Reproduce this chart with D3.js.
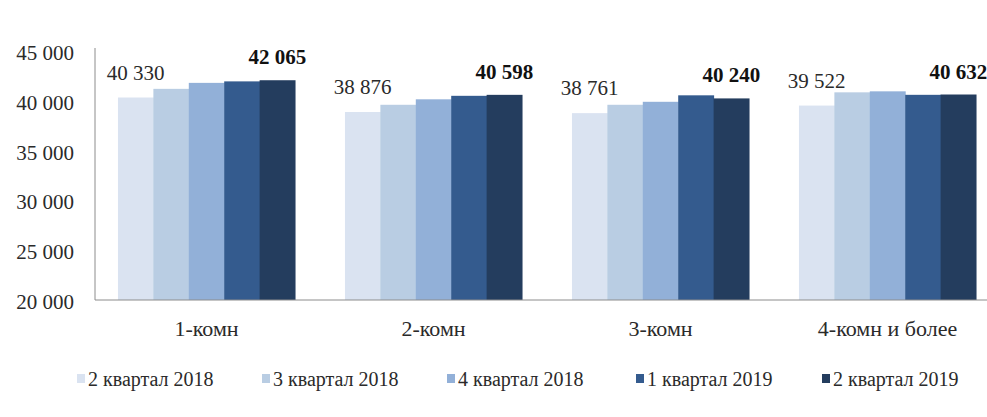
<!DOCTYPE html>
<html><head><meta charset="utf-8">
<script src="https://cdn.jsdelivr.net/npm/d3@7"></script>
</head><body style="margin:0;background:#fff"><svg id="c" width="987" height="417" font-family="Liberation Serif"></svg>
<script>
const categories = ["1-комн", "2-комн", "3-комн", "4-комн и более"];
const seriesNames = ["2 квартал 2018", "3 квартал 2018", "4 квартал 2018", "1 квартал 2019", "2 квартал 2019"];
const q2_2018 = [40330, 38876, 38761, 39522];
const q3_2018 = [41200, 39600, 39600, 40850];
const q4_2018 = [41800, 40150, 39900, 40950];
const q1_2019 = [41950, 40500, 40550, 40600];
const q2_2019 = [42065, 40598, 40240, 40632];
const yTicks = [20000, 25000, 30000, 35000, 40000, 45000];
const colors = ["#dae3f1", "#b9cde3", "#92b0d8", "#345b8e", "#243d5e"];
const series = [q2_2018, q3_2018, q4_2018, q1_2019, q2_2019];

const FONT = "Liberation Serif";
const svg = d3.select("#c");
const fmt = v => d3.format(",")(v).replace(/,/g, " ");
const x0 = d3.scaleBand().domain(categories).range([93, 1001]).paddingInner(0.22).paddingOuter(0.11);
const x1 = d3.scaleBand().domain(d3.range(5)).range([0, x0.bandwidth()]);
const y = d3.scaleLinear().domain([20000, 45000]).range([300, 51]);

categories.forEach((c, ci) => {
  const g = svg.append("g").attr("transform", `translate(${x0(c)},0)`);
  series.forEach((s, si) => {
    g.append("rect").attr("x", x1(si)).attr("width", x1.bandwidth() + 0.5)
      .attr("y", y(s[ci])).attr("height", y(20000) - y(s[ci])).attr("fill", colors[si]);
  });
  g.append("text").attr("x", x1(0) + x1.bandwidth() / 2).attr("y", y(series[0][ci]) - 18)
    .attr("text-anchor", "middle").attr("font-size", 21).attr("font-family", FONT).attr("fill", "#2a2a2a")
    .text(fmt(series[0][ci]));
  g.append("text").attr("x", x1(4) + x1.bandwidth() / 2).attr("y", y(series[4][ci]) - 16)
    .attr("text-anchor", "middle").attr("font-size", 21).attr("font-weight", "bold").attr("font-family", FONT)
    .attr("fill", "#111").text(fmt(series[4][ci]));
});

const ya = svg.append("g").attr("transform", "translate(95,0)")
  .call(d3.axisLeft(y).tickValues(yTicks).tickFormat(fmt).tickSize(0).tickPadding(21));
ya.attr("font-family", FONT);
ya.select(".domain").attr("stroke", "#8c8c8c").attr("d", "M0,48V300");
ya.selectAll("text").attr("font-size", 21).attr("fill", "#2a2a2a").attr("font-family", FONT).attr("dy", "0.4em");

const xa = svg.append("g").attr("transform", "translate(0,300)")
  .call(d3.axisBottom(x0).tickSize(0).tickPadding(20));
xa.attr("font-family", FONT);
xa.select(".domain").attr("stroke", "#8c8c8c").attr("d", "M95,0H987");
xa.selectAll("text").attr("font-size", 22).attr("fill", "#2a2a2a").attr("font-family", FONT);

const lx = [77, 262, 447, 636, 822];
seriesNames.forEach((n, i) => {
  svg.append("rect").attr("x", lx[i]).attr("y", 374).attr("width", 8).attr("height", 9).attr("fill", colors[i]);
  svg.append("text").attr("x", lx[i] + 11).attr("y", 386).attr("font-size", 20)
    .attr("font-family", FONT).attr("fill", "#2a2a2a").text(n);
});
</script></body></html>
